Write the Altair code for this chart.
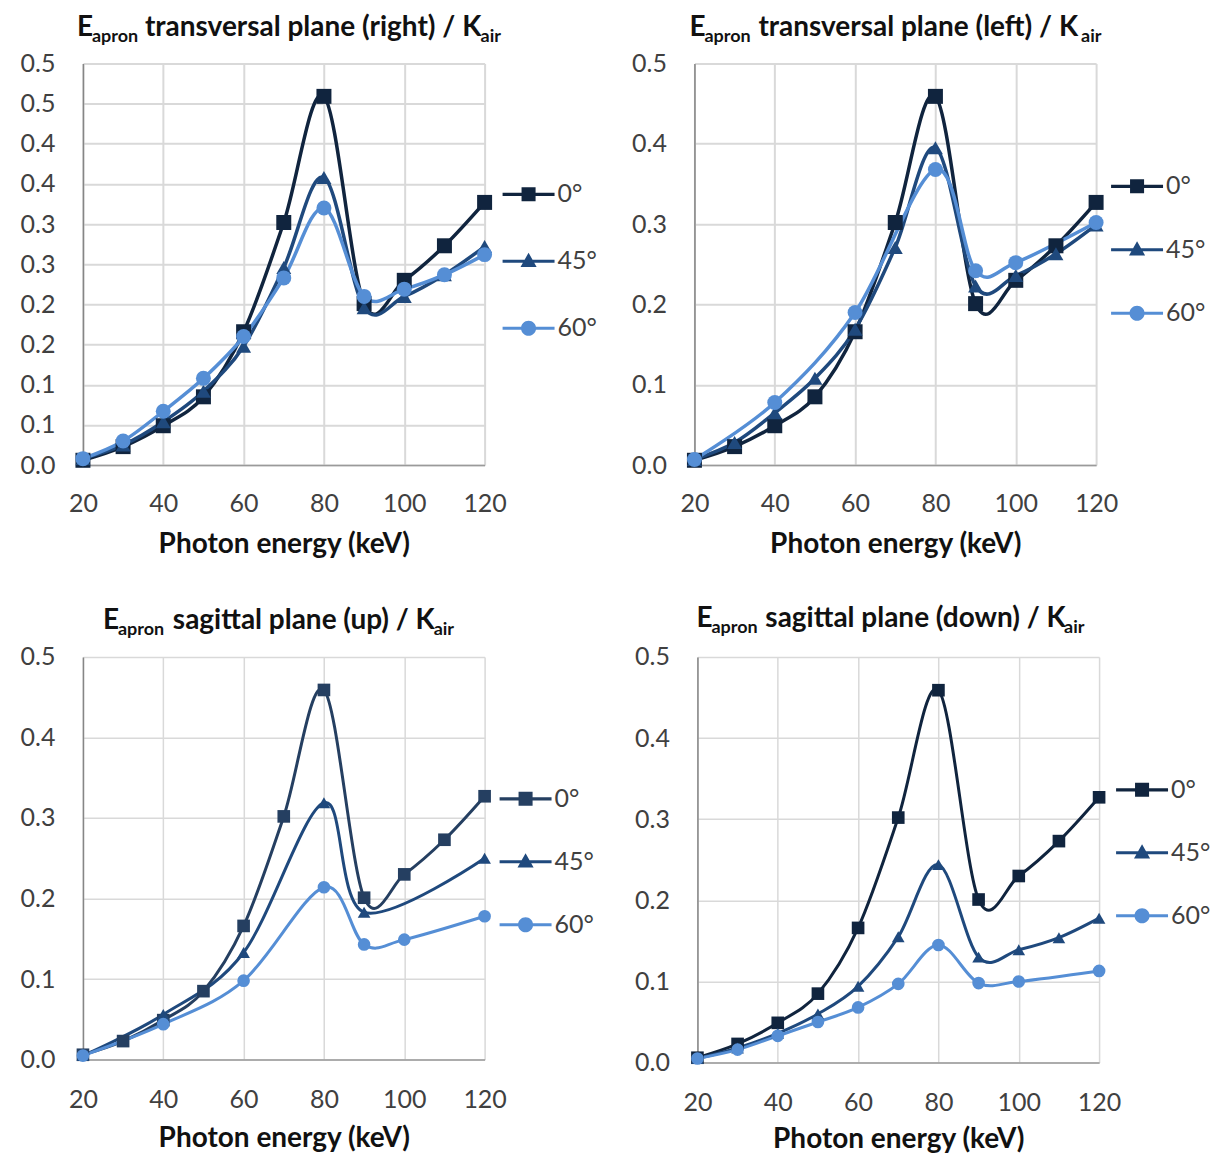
import altair as alt
import pandas as pd

# ---------------- data ----------------
energy = [20, 30, 40, 50, 60, 70, 80, 90, 100, 110, 120]
angles = ["0°", "45°", "60°"]

deg0 = [0.006, 0.023, 0.049, 0.085, 0.166, 0.302, 0.459, 0.201, 0.230, 0.273, 0.327]

right_45 = [0.008, 0.025, 0.054, 0.092, 0.148, 0.246, 0.358, 0.196, 0.210, 0.237, 0.272]
right_60 = [0.008, 0.030, 0.067, 0.108, 0.160, 0.233, 0.320, 0.210, 0.219, 0.237, 0.262]

left_45 = [0.007, 0.028, 0.065, 0.108, 0.169, 0.271, 0.395, 0.223, 0.236, 0.263, 0.299]
left_60 = [0.007, None, 0.078, None, 0.190, None, 0.368, 0.242, 0.252, None, 0.302]

up_45 = [0.005, None, 0.056, None, 0.133, None, 0.319, 0.183, None, None, 0.250]
up_60 = [0.005, None, 0.044, None, 0.098, None, 0.214, 0.143, 0.149, None, 0.178]

down_45 = [0.005, 0.018, 0.036, 0.060, 0.094, 0.155, 0.244, 0.130, 0.139, 0.154, 0.178]
down_60 = [0.005, 0.016, 0.033, 0.050, 0.068, 0.097, 0.145, 0.098, 0.100, None, 0.113]

x_ticks = [20, 40, 60, 80, 100, 120]
y_ticks_fine = [0.0, 0.05, 0.1, 0.15, 0.2, 0.25, 0.3, 0.35, 0.4, 0.45, 0.5]
y_ticks = [0.0, 0.1, 0.2, 0.3, 0.4, 0.5]

# ---------------- style ----------------
FONT = "Lato"
LABEL_COLOR = "#404040"
TITLE_COLOR = "#111111"
C0 = "#10243e"
C0_UP = "#253f61"
C45 = "#1f497d"
C60 = "#558ed5"

LEG_SHAPES = [
    "M-1,-0.06H1V0.06H-1Z M-0.27,-0.27H0.27V0.27H-0.27Z",
    "M-1,-0.06H1V0.06H-1Z M0,-0.33L0.31,0.22H-0.31Z",
    "M-1,-0.06H1V0.06H-1Z M0.29,0A0.29,0.29,0,1,1,-0.29,0A0.29,0.29,0,1,1,0.29,0Z",
]
PT_SHAPES = ["square", "triangle-up", "circle"]

W = 402


def to_df(series):
    rows = []
    for ang, vals in zip(angles, series):
        for e, v in zip(energy, vals):
            if v is not None:
                rows.append({"energy": e, "value": v, "angle": ang})
    return pd.DataFrame(rows)


def text_piece(text, px, py, size):
    return alt.Chart(alt.Data(values=[{}])).mark_text(
        text=text, font=FONT, fontWeight="bold", fontSize=size,
        align="left", baseline="alphabetic", color=TITLE_COLOR,
    ).encode(x=alt.value(px), y=alt.value(py))


def panel(series, colors, yvals, title_main, tpos, tbase, leg_x, leg_y, row_pad,
          msize, lw, gw, x_lab_pad, x_title_pad, height):
    df = to_df(series)
    x = alt.X("energy:Q",
              scale=alt.Scale(domain=[20, 120], nice=False, zero=False),
              axis=alt.Axis(values=x_ticks, format="d", title="Photon energy (keV)",
                            labelFont=FONT, labelFontSize=25, labelColor=LABEL_COLOR,
                            labelPadding=x_lab_pad, labelFlush=False, labelOverlap=False,
                            ticks=False, tickSize=0,
                            domainColor="#9a9a9a", domainWidth=1.5,
                            gridColor="#d9d9d9", gridWidth=gw,
                            titleFont=FONT, titleFontSize=28, titleFontWeight="bold",
                            titleColor=TITLE_COLOR, titlePadding=x_title_pad))
    y = alt.Y("value:Q",
              scale=alt.Scale(domain=[0, 0.5], nice=False, zero=True),
              axis=alt.Axis(values=yvals, labelExpr="format(datum.value + 1e-9, '.1f')",
                            title=None, labelFont=FONT, labelFontSize=25,
                            labelColor=LABEL_COLOR, labelPadding=28, labelFlush=False,
                            labelOverlap=False, ticks=False, tickSize=0,
                            domainColor="#868686", domainWidth=1.5,
                            gridColor="#d9d9d9", gridWidth=gw))
    color = alt.Color("angle:N", scale=alt.Scale(domain=angles, range=colors), legend=None)
    base = alt.Chart(df).encode(x=x, y=y, color=color)
    lines = base.mark_line(interpolate="cardinal", strokeWidth=lw)
    pts = base.mark_point(filled=True, size=msize, opacity=1, strokeWidth=0).encode(
        shape=alt.Shape("angle:N", scale=alt.Scale(domain=angles, range=PT_SHAPES), legend=None)
    )
    leg_def = dict(title=None, orient="none", legendX=leg_x, legendY=leg_y,
                   direction="vertical", symbolSize=2704, symbolStrokeWidth=0,
                   labelFont=FONT, labelFontSize=25, labelColor=LABEL_COLOR,
                   labelOffset=3, rowPadding=row_pad, padding=0)
    leg = alt.Chart(df).transform_filter("false").mark_point(
        filled=True, opacity=1, strokeWidth=0
    ).encode(
        x=alt.X("energy:Q"), y=alt.Y("value:Q"),
        color=alt.Color("angle:N", scale=alt.Scale(domain=angles, range=colors),
                        legend=alt.Legend(**leg_def)),
        shape=alt.Shape("angle:N", scale=alt.Scale(domain=angles, range=LEG_SHAPES),
                        legend=alt.Legend(**leg_def)),
    )
    e_x, sub_x, main_x, air_x = tpos
    layers = [
        lines, pts, leg,
        text_piece("E", e_x, tbase, 28),
        text_piece("apron", sub_x, tbase + 6, 18),
        text_piece(title_main, main_x, tbase, 28),
        text_piece("air", air_x, tbase + 6, 18),
    ]
    return alt.layer(*layers).resolve_scale(
        shape="independent", color="independent"
    ).properties(width=W, height=height)


tl = panel([deg0, right_45, right_60], [C0, C45, C60], y_ticks_fine,
           "transversal plane (right) / K", (-6, 9, 62, 398), -27,
           W + 18, 105, 28, 225, 3.5, 2, 26, 14, 402)
tr = panel([deg0, left_45, left_60], [C0, C45, C60], y_ticks,
           "transversal plane (left) / K", (-5, 10, 64, 387), -27,
           W + 15, 97, 24.5, 225, 3.5, 2, 26, 14, 402)
bl = panel([deg0, up_45, up_60], [C0_UP, C45, C60], y_ticks,
           "sagittal plane (up) / K", (20, 35, 90, 351), -28,
           W + 15, 116, 24, 160, 3, 1.5, 28, 12, 403)
br = panel([deg0, down_45, down_60], [C0, C45, C60], y_ticks,
           "sagittal plane (down)  / K", (-1, 14, 68, 367), -30,
           W + 17, 107, 24, 160, 3, 1.5, 28, 10, 406)

chart = alt.vconcat(
    alt.hconcat(tl, tr, spacing=34),
    alt.hconcat(bl, br, spacing=40),
    spacing=47,
).properties(
    padding={"left": 12, "top": 6, "right": 0, "bottom": 0}
).configure_view(stroke=None)

chart.save("out.html", embed_options={"renderer": "svg", "actions": False})
